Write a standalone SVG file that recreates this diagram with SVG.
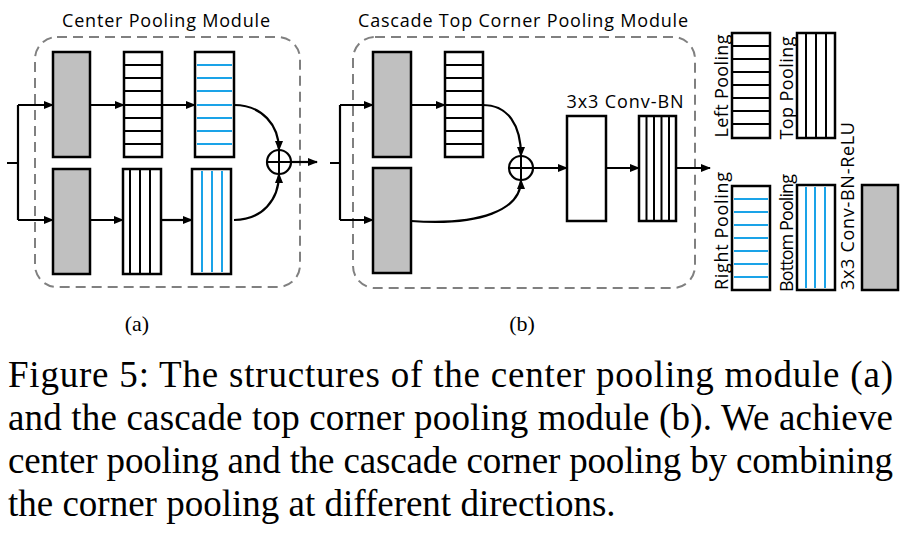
<svg xmlns="http://www.w3.org/2000/svg" width="900" height="535" viewBox="0 0 900 535">
<defs>
<marker id="ah" markerWidth="10" markerHeight="8" refX="9" refY="4" orient="auto" markerUnits="userSpaceOnUse"><path d="M0,0 L10,4 L0,8 z" fill="#000"/></marker>
<style>
.box{fill:#fff;stroke:#000;stroke-width:2.5}
.gray{fill:#c0c0c0;stroke:#000;stroke-width:2.5}
.ln{stroke:#000;stroke-width:2}
.bl{stroke:#1aa3e8;stroke-width:2}
.dash{fill:none;stroke:#808080;stroke-width:2;stroke-dasharray:10,6}
.c{fill:none;stroke:#000;stroke-width:2.2}
.lbl{font-family:"Open Sans","DejaVu Sans",sans-serif;font-size:18px;fill:#000}
.cap{font-family:"Liberation Serif","Times New Roman",serif;font-size:37px;fill:#000}
.sub{font-family:"Liberation Serif","Times New Roman",serif;font-size:22px;fill:#000}
</style>
</defs>
<rect width="900" height="535" fill="#fff"/>
<g id="moduleA">
<rect class="dash" x="35" y="37" width="265" height="250" rx="22"/>
<text class="lbl" x="166" y="27" text-anchor="middle" textLength="208">Center Pooling Module</text>
</g>
<g id="moduleB">
<rect class="dash" x="353" y="37" width="342" height="251" rx="22"/>
<text class="lbl" x="523" y="27" text-anchor="middle" textLength="330">Cascade Top Corner Pooling Module</text>
</g>
<g id="a-gray1"><rect class="gray" x="53" y="52" width="37" height="105"/></g>
<g id="a-gray2"><rect class="gray" x="53" y="169" width="37" height="105"/></g>
<g id="a-left"><rect class="box" x="124" y="52" width="38" height="105"/>
<path class="ln" d="M124,65H162M124,78H162M124,91H162M124,105H162M124,118H162M124,131H162M124,144H162"/></g>
<g id="a-right"><rect class="box" x="195" y="52" width="39" height="105"/>
<path class="bl" d="M197,65H232M197,78H232M197,91H232M197,105H232M197,118H232M197,131H232M197,144H232"/></g>
<g id="a-top"><rect class="box" x="123" y="169" width="38" height="105"/>
<path class="ln" d="M130,169V274M140,169V274M150,169V274"/></g>
<g id="a-bottom"><rect class="box" x="192" y="169" width="39" height="105"/>
<path class="bl" d="M202,171V272M212,171V272M222,171V272"/></g>
<g id="a-sum"><circle cx="279" cy="162" r="12" fill="#fff" stroke="#000" stroke-width="2.2"/><path class="ln" d="M267,162H291M279,150V174"/></g>
<g id="b-gray1"><rect class="gray" x="373" y="52" width="38" height="105"/></g>
<g id="b-gray2"><rect class="gray" x="373" y="168" width="38" height="105"/></g>
<g id="b-left"><rect class="box" x="445" y="52" width="38" height="105"/>
<path class="ln" d="M445,65H483M445,78H483M445,91H483M445,105H483M445,118H483M445,131H483M445,144H483"/></g>
<g id="b-sum"><circle cx="521" cy="168" r="12" fill="#fff" stroke="#000" stroke-width="2.2"/><path class="ln" d="M509,168H533M521,156V180"/></g>
<g id="b-conv"><rect class="box" x="567" y="116" width="39" height="105"/>
<text class="lbl" x="625" y="108" text-anchor="middle" textLength="117">3x3 Conv-BN</text></g>
<g id="b-top"><rect class="box" x="639" y="116" width="37" height="105"/>
<path class="ln" d="M646.5,116V221M654,116V221M661.5,116V221M669,116V221"/></g>
<g id="legend">
<rect class="box" x="732" y="33" width="38" height="105"/>
<path class="ln" d="M732,46H770M732,59H770M732,72H770M732,85H770M732,98H770M732,111H770M732,124H770"/>
<text class="lbl" transform="translate(728,86) rotate(-90)" text-anchor="middle" textLength="103">Left Pooling</text>
<rect class="box" x="797" y="33" width="38" height="105"/>
<path class="ln" d="M806,33V138M816,33V138M826,33V138"/>
<text class="lbl" transform="translate(793,88) rotate(-90)" text-anchor="middle" textLength="103">Top Pooling</text>
<rect class="box" x="732" y="186" width="38" height="104"/>
<path class="bl" d="M734,199H768M734,212H768M734,225H768M734,238H768M734,251H768M734,264H768M734,277H768"/>
<text class="lbl" transform="translate(728,231) rotate(-90)" text-anchor="middle" textLength="118">Right Pooling</text>
<rect class="box" x="797" y="185" width="38" height="105"/>
<path class="bl" d="M806,187V288M815,187V288M825,187V288"/>
<text class="lbl" transform="translate(793,233) rotate(-90)" text-anchor="middle" textLength="118">Bottom Pooling</text>
<text class="lbl" transform="translate(854,206) rotate(-90)" text-anchor="middle" textLength="168">3x3 Conv-BN-ReLU</text>
<rect class="gray" x="862" y="185" width="36" height="105"/>
</g>
<g id="connectors">
<path class="c" d="M7,163H18M18,105V220"/>
<path class="c" d="M18,105H53" marker-end="url(#ah)"/>
<path class="c" d="M18,220H53" marker-end="url(#ah)"/>
<path class="c" d="M90,105H124" marker-end="url(#ah)"/>
<path class="c" d="M162,105H195" marker-end="url(#ah)"/>
<path class="c" d="M90,220H123" marker-end="url(#ah)"/>
<path class="c" d="M161,220H192" marker-end="url(#ah)"/>
<path class="c" d="M234,105C262,105 279,125 279,150" marker-end="url(#ah)"/>
<path class="c" d="M234,220C262,220 279,200 279,174" marker-end="url(#ah)"/>
<path class="c" d="M291,162H317" marker-end="url(#ah)"/>
<path class="c" d="M330,163H340M340,105V220"/>
<path class="c" d="M340,105H373" marker-end="url(#ah)"/>
<path class="c" d="M340,220H373" marker-end="url(#ah)"/>
<path class="c" d="M411,105H445" marker-end="url(#ah)"/>
<path class="c" d="M483,105C508,105 521,125 521,156" marker-end="url(#ah)"/>
<path class="c" d="M411,221C480,226 521,210 521,180" marker-end="url(#ah)"/>
<path class="c" d="M533,168H567" marker-end="url(#ah)"/>
<path class="c" d="M606,168H639" marker-end="url(#ah)"/>
<path class="c" d="M676,168H710" marker-end="url(#ah)"/>
</g>
<g id="captions">
<text class="sub" x="137" y="331" text-anchor="middle">(a)</text>
<text class="sub" x="522" y="331" text-anchor="middle">(b)</text>
<text class="cap" x="8" y="387" textLength="885" lengthAdjust="spacing">Figure 5: The structures of the center pooling module (a)</text>
<text class="cap" x="8" y="430" textLength="885" lengthAdjust="spacing">and the cascade top corner pooling module (b). We achieve</text>
<text class="cap" x="8" y="473" textLength="885" lengthAdjust="spacing">center pooling and the cascade corner pooling by combining</text>
<text class="cap" x="8" y="516">the corner pooling at different directions.</text>
</g>
</svg>
